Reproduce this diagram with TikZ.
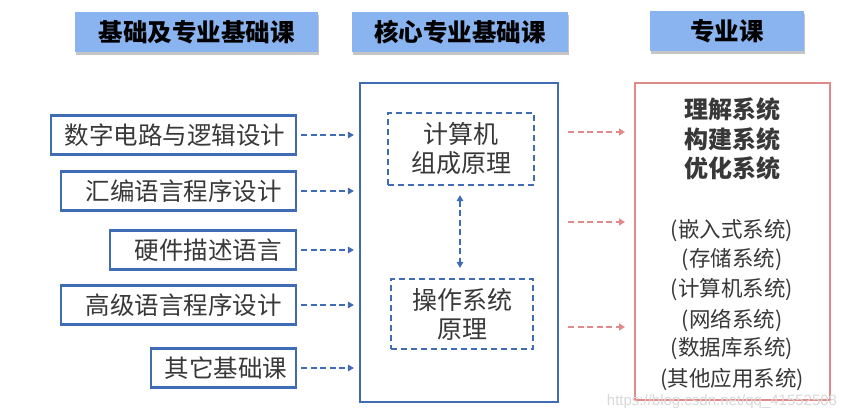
\documentclass[tikz,border=0pt]{standalone}
\usepackage{fontspec}
\setmainfont{Noto Sans CJK SC}
\IfFontExistsTF{Noto Sans CJK SC Black}
  {\newfontfamily\hvyfont{Noto Sans CJK SC Black}}
  {\newcommand\hvyfont{\bfseries}}
\newfontfamily\wmfont{Liberation Sans}
\usetikzlibrary{arrows.meta,shadows,positioning}
\definecolor{headfill}{HTML}{8AB4F0}
\definecolor{bblue}{HTML}{3F6CB4}
\definecolor{rred}{HTML}{E08A8A}
\definecolor{tgray}{HTML}{383838}
\begin{document}
\begin{tikzpicture}[x=1pt,y=-1pt,
  header/.style={fill=headfill,draw=none,minimum height=40pt,inner sep=0pt,
    font=\fontsize{24.5}{27}\selectfont\hvyfont,text=black,
    drop shadow={shadow xshift=1pt,shadow yshift=-3pt,opacity=0.45}},
  lbox/.style={draw=bblue,line width=2.2pt,minimum height=39pt,inner xsep=14pt,inner ysep=0pt,
    align=right,anchor=east,font=\fontsize{24.5}{27}\selectfont,text=tgray},
  dbox/.style={draw=bblue,line width=2.2pt,dash pattern=on 6pt off 4pt,inner sep=0pt,
    align=center,font=\fontsize{25}{29}\selectfont,text=tgray},
  barrow/.style={draw=bblue,line width=2.2pt,dash pattern=on 6pt off 3.5pt,
    -{Triangle[length=6pt,width=6.5pt]}},
  rarrow/.style={draw=rred,line width=2.4pt,dash pattern=on 6pt off 3.5pt,
    -{Triangle[length=6pt,width=7pt]}},
  rtext/.style={font=\fontsize{21.5}{24}\selectfont,text=tgray,inner sep=0pt},
  rbold/.style={font=\fontsize{24}{26}\selectfont\hvyfont,text=tgray,inner sep=0pt}
]
\useasboundingbox (0,0) rectangle (854,420);
\fill[white] (0,0) rectangle (854,420);

% headers
\node[header,minimum width=243pt] (h1) at (196.5,32) {基础及专业基础课};
\node[header,minimum width=216pt] (h2) at (460,32) {核心专业基础课};
\node[header,minimum width=154pt] (h3) at (727,31) {专业课};

% left boxes
\node[lbox,text width=217pt] (l1) at (297,135) {数字电路与逻辑设计};
\node[lbox,text width=207pt] (l2) at (297,191) {汇编语言程序设计};
\node[lbox,text width=158pt] (l3) at (297,250) {硬件描述语言};
\node[lbox,text width=207pt] (l4) at (297,305) {高级语言程序设计};
\node[lbox,text width=117pt] (l5) at (297,368) {其它基础课};

% middle box
\node[draw=bblue,line width=2.2pt,minimum width=198pt,minimum height=319pt,inner sep=0pt] (mid) at (459,242.5) {};
\node[dbox,minimum width=146pt,minimum height=72pt] (c1) at (461,149) {计算机\\组成原理};
\node[dbox,minimum width=142pt,minimum height=70pt] (c2) at (462,314) {操作系统\\原理};
\draw[barrow,{Triangle[length=6pt,width=6.5pt]}-{Triangle[length=6pt,width=6.5pt]}]
  ([yshift=-9pt]c1.south -| 460,0) coordinate (v1) -- ([yshift=10pt]c2.north -| 460,0) coordinate (v2);

% right box
\node[draw=rred,line width=2pt,minimum width=195pt,minimum height=317pt,inner sep=0pt] (rbox) at (732.5,241.5) {};
\node[rbold] (t1) at (732,109) {理解系统};
\node[rbold] (t2) at (732,139) {构建系统};
\node[rbold] (t3) at (732,168) {优化系统};
\node[rtext] (s1) at (732,231) {(嵌入式系统)};
\node[rtext] (s2) at (732,260) {(存储系统)};
\node[rtext] (s3) at (732,290) {(计算机系统)};
\node[rtext] (s4) at (732,320) {(网络系统)};
\node[rtext] (s5) at (732,349) {(数据库系统)};
\node[rtext] (s6) at (732,379) {(其他应用系统)};

% blue arrows
\foreach \n in {l1,l2,l3,l4,l5}{
  \draw[barrow] ([xshift=4pt]\n.east) -- ([xshift=-5pt]\n.east -| mid.west);
}

% red arrows
\coordinate (r1) at (0,132);
\coordinate (r2) at (0,222);
\coordinate (r3) at (0,327);
\foreach \r in {r1,r2,r3}{
  \draw[rarrow] ([xshift=9pt]mid.east |- \r) -- ([xshift=-9pt]rbox.west |- \r);
}

% watermark
\node[text=black!15,font=\wmfont\fontsize{15}{17}\selectfont,inner sep=0pt] (wm) at (722,402) {https://blog.csdn.net/qq\_41552508};
\end{tikzpicture}
\end{document}
